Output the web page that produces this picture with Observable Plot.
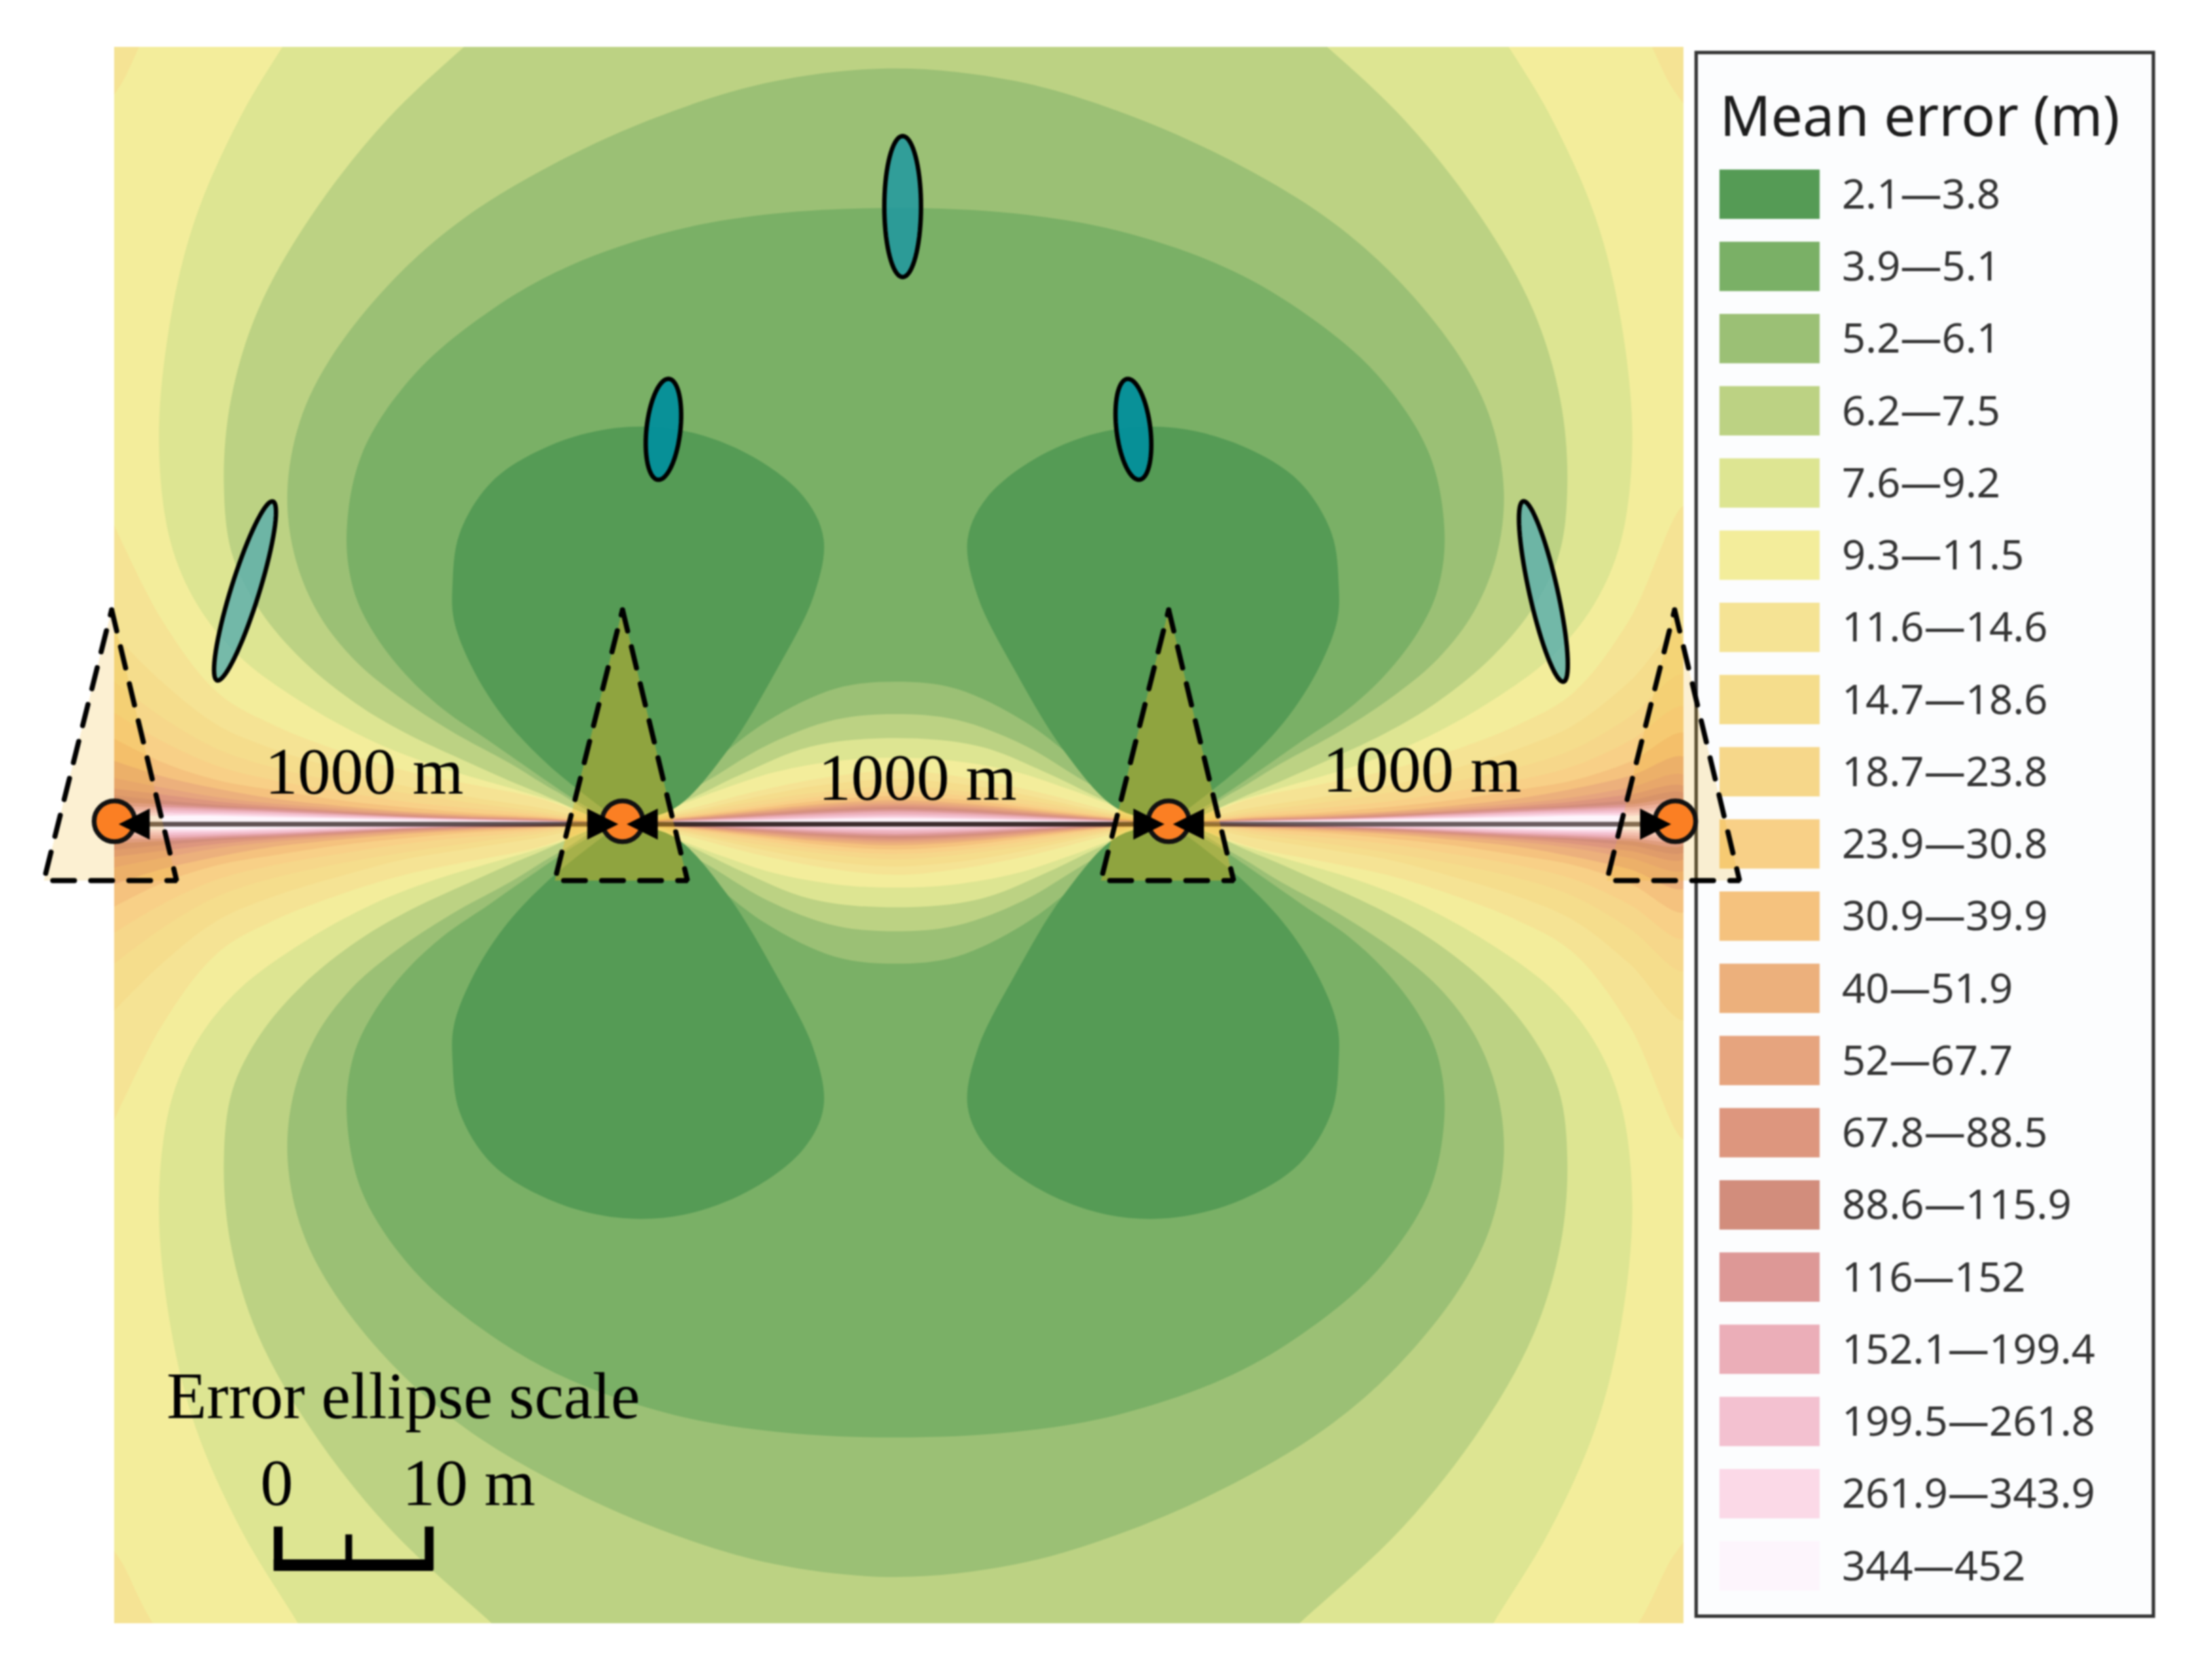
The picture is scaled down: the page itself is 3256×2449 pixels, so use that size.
<!DOCTYPE html>
<html><head><meta charset="utf-8">
<style>html,body{margin:0;padding:0;background:#fff;overflow:hidden}svg{display:block;filter:blur(1.1px)}</style>
<script src="https://cdn.jsdelivr.net/npm/d3@7"></script>
<script src="https://cdn.jsdelivr.net/npm/@observablehq/plot@0.6"></script>
</head><body><div id="chart"></div>
<script>
// Map units: origin at the middle of the station line.
const legendLabels = ["2.1—3.8","3.9—5.1","5.2—6.1","6.2—7.5","7.6—9.2","9.3—11.5","11.6—14.6","14.7—18.6","18.7—23.8","23.9—30.8","30.9—39.9","40—51.9","52—67.7","67.8—88.5","88.6—115.9","116—152","152.1—199.4","199.5—261.8","261.9—343.9","344—452"];
const legendColors = ["#559b55","#7ab066","#9bc075","#bcd283","#dde592","#f3ed9b","#f5e394","#f5dd8c","#f6d78a","#f8d087","#f5c27e","#ecb07c","#e6a47e","#dd967e","#d28d7c","#dd9896","#ebaeb8","#f3c1d0","#fbd9e7","#fdf5fc"];

// Green contours, upper-left quarter: [east, north]
const contour92 = [[-405,600],[-424,567],[-463,503],[-496,429],[-514,356],[-522,271],[-514,200],[-495,155],[-465,118],[-420,85],[-371,58],[-325,40],[-278,26],[-238,14],[-194,0],[-160,10],[-125,23],[-85,36],[-40,44],[0,46]];
const contour75 = [[-250,600],[-287,567],[-360,499],[-415,429],[-452,363],[-471,300],[-476,240],[-470,190],[-450,150],[-420,115],[-383,85],[-348,64],[-301,42],[-255,22],[-194,0],[-150,15],[-110,34],[-60,54],[0,60]];
const contour61 = [[0,535],[-85,526],[-157,505],[-231,473],[-304,430],[-356,385],[-400,330],[-422,285],[-431,235],[-426,190],[-410,150],[-385,117],[-353,90],[-315,65],[-273,42],[-240,22],[-194,0],[-140,26],[-91,55],[-43,73],[0,77]];
const contour51 = [[0,436],[-85,432],[-157,420],[-231,395],[-286,364],[-341,318],[-378,262],[-389,205],[-384,165],[-370,135],[-347,105],[-320,80],[-288,58],[-255,35],[-220,12],[-194,0],[-155,21],[-128,44],[-91,72],[-43,95],[0,100]];
const lobe38 = [[-194,0],[-245,40],[-278,75],[-301,112],[-313,144],[-314,168],[-309,205],[-286,242],[-246,267],[-198,280],[-150,278],[-102,260],[-65,231],[-51,201],[-58,161],[-84,109],[-120,50],[-157,10],[-194,0]];
const corner146 = [[-600,600],[-500,600],[-526,568],[-536,550],[-548,525],[-562,505]];

// High-error bands along the line: half-width north of the line at each station
const stations = [-560,-520,-480,-440,-394,-348,-300,-255,-194,-150,-100,-50,0];
const band146 = [225,144,92,69,51,37,27,18,0,9,22,32,37];
const band186 = [140,100,69,52,38,26,18,11,0,7,18,27,31];
const band238 = [105,75,52,39,29,21,14,8,0,6,15,22,26];
const band308 = [82,58,40,30,22,15,10,6,0,5,12,19,22];
const band399 = [63,43,30,23,16,11,7,4.5,0,4,10,16,19];
const band519 = [46,33,24,17,12,8,5.5,3.5,0,3.5,8.5,13.5,16];
const band677 = [33,25,18,13.5,10,7,4.5,3,0,3,7.5,12,14];
const band885 = [25,20,15,11.5,8.5,6,3.8,2.5,0,2.5,6.5,10.5,12.5];
const band1159 = [20,16,12.5,10,7.5,5,3.2,2,0,2.2,5.5,9,11];
const band152 = [15,13,11,9.5,7,4.5,3,1.8,0,2,5,8,9.5];
const band1994 = [11.5,11,9.5,8,6,4,2.6,1.5,0,1.6,4,6.5,8];
const band2618 = [9,9,8,7,5,3.5,2.2,1.2,0,1.2,3,5,6];
const band3439 = [7,7,6.5,5.5,4,3,1.8,1,0,1,2,3.5,4.5];
const band452 = [5,5,5,4,3,2,1.2,.7,0,.6,1.5,2.5,3];
const bands = [band146,band186,band238,band308,band399,band519,band677,band885,band1159,band152,band1994,band2618,band3439,band452];

// Stations on the line
const nodeEast = [-553.5,-193.5,193.5,552.5];
const coneEast = [-556.5,-194.5,192.5,551];
const lineNorth = -1, nodeNorth = 1;
const coneApexNorth = 151, coneBaseNorth = -41, coneBaseHalf = 47;
const coneOpacity = [0.2,0.38,0.38,0.2];
const lineOpacity = [0.75,0.92,0.7];

// Error ellipses: centre, semi-axes, tilt in degrees from north
const ellipseEast = [-461,-164.5,5,168.5,459];
const ellipseNorth = [164.4,279,437,279,164];
const ellipseLong = [66.5,36,50,36,65.6];
const ellipseShort = [10,12,13,12,10];
const ellipseTilt = [17.3,6.3,0,-7,-12.6];
const ellipseColor = ["#5fb0ab","#038f9b","#1f98a0","#038f9b","#5fb0ab"];
const ellipseOpacity = [0.85,0.95,0.85,0.95,0.85];

const spanLabels = ["1000 m","1000 m","1000 m"];
const spanEast = [-376.5,15.5,373], spanNorth = [20.5,16.5,22];
const legendTitle = "Mean error (m)";
const scaleTitle = "Error ellipse scale";
const scaleLabels = ["0","10 m"];
const scaleTicks = [-437.5,-387.5,-330.5];

const pt = d => d[0], ny = d => d[1];
const poly = (pts, o) => Plot.line(pts, {x: pt, y: ny, stroke: "none", ...o});
const closeX = q => {
  const m = q.slice(0, -1).reverse().map(([x, y]) => [-x, y]);
  if (q[0][0] === 0) m.pop();
  return q.concat(m);
};
const flipY = q => q.map(([x, y]) => [x, -y]);
const flipX = q => q.map(([x, y]) => [-x, y]);
const smooth = {curve: "catmull-rom", clip: "frame"};
const ring = {curve: "catmull-rom-closed", clip: "frame"};

const marks = [];
marks.push(Plot.rect([0], {x1: -553.5, x2: 558.5, y1: -568, y2: 550, fill: legendColors[5]}));
[contour92, contour75, contour61, contour51].forEach((q, i) => {
  const fill = legendColors[4 - i], c = closeX(q);
  marks.push(poly(c, {fill, ...ring}), poly(flipY(c), {fill, ...ring}));
});
[lobe38, flipX(lobe38), flipY(lobe38), flipY(flipX(lobe38))].forEach(l => marks.push(poly(l, {fill: legendColors[0], ...smooth})));
[corner146, flipX(corner146), flipY(corner146), flipY(flipX(corner146))].forEach(l => marks.push(poly(l, {fill: legendColors[6], ...smooth})));
bands.forEach((b, i) => {
  const q = stations.map((x, j) => [x, b[j]]), top = closeX(q);
  const all = top.concat(flipY(top).reverse());
  marks.push(poly(all, {fill: legendColors[i + 6], ...smooth}));
});
nodeEast.slice(0, -1).forEach((e, i) => marks.push(poly([[e, lineNorth], [nodeEast[i + 1], lineNorth]], {stroke: "#2a1a1a", strokeWidth: 7, strokeOpacity: lineOpacity[i]})));

// legend
const rowStep = 51.2;
marks.push(Plot.rect([0], {x1: 567.5, x2: 891.5, y1: 546, y2: -563, fill: "#fcfdfe", stroke: "#333", strokeWidth: 5}));
marks.push(Plot.rect(legendLabels, {x1: 584, x2: 655, y1: (d, i) => 463 - rowStep * i, y2: (d, i) => 428 - rowStep * i, fill: (d, i) => legendColors[i]}));
marks.push(Plot.text(legendLabels, {x: 670.5, y: (d, i) => 445 - rowStep * i, text: d => d, textAnchor: "start", fontFamily: "Noto Sans", fontSize: 61, fill: "#333"}));
marks.push(Plot.text([legendTitle], {x: 584, y: 487, text: d => d, textAnchor: "start", lineAnchor: "bottom", fontFamily: "Noto Sans", fontSize: 83, fill: "#1c1c1c"}));

// sensor cones, stations, arrowheads
coneEast.forEach((e, i) => {
  const tri = [[e + 1, coneApexNorth], [e + coneBaseHalf, coneBaseNorth], [e - coneBaseHalf, coneBaseNorth], [e + 1, coneApexNorth]];
  marks.push(poly(tri, {fill: "#eeb21e", fillOpacity: coneOpacity[i]}));
  marks.push(poly(tri, {stroke: "#000", strokeWidth: 7.5, strokeDasharray: "32 24", strokeLinejoin: "miter"}));
});
marks.push(Plot.dot(nodeEast, {x: d => d, y: nodeNorth, r: 30, fill: "#fb7f23", stroke: "#111", strokeWidth: 7}));
const headLength = 22, headHalf = 11, headInset = 3;
nodeEast.forEach((e, i) => {
  if (i < 3) marks.push(poly([[e + headInset, lineNorth], [e + headInset + headLength, lineNorth + headHalf], [e + headInset + headLength, lineNorth - headHalf]], {fill: "#000"}));
  if (i > 0) marks.push(poly([[e - headInset, lineNorth], [e - headInset - headLength, lineNorth + headHalf], [e - headInset - headLength, lineNorth - headHalf]], {fill: "#000"}));
});

// ellipses
ellipseEast.forEach((e, i) => {
  const t = ellipseTilt[i] * Math.PI / 180, pts = d3.range(73).map(k => {
    const a = k / 72 * 2 * Math.PI, u = ellipseShort[i] * Math.cos(a), v = ellipseLong[i] * Math.sin(a);
    return [e + u * Math.cos(t) + v * Math.sin(t), ellipseNorth[i] - u * Math.sin(t) + v * Math.cos(t)];
  });
  marks.push(poly(pts, {fill: ellipseColor[i], fillOpacity: ellipseOpacity[i]}));
  marks.push(poly(pts, {stroke: "#000", strokeWidth: 6.5}));
});

// labels
const serif = {fontFamily: "Liberation Serif", fontSize: 96.5, fill: "#000", lineAnchor: "bottom"};
marks.push(Plot.text(spanLabels, {x: (d, i) => spanEast[i], y: (d, i) => spanNorth[i], text: d => d, textAnchor: "middle", ...serif}));
marks.push(Plot.text([scaleTitle], {x: -516.5, y: -422, text: d => d, textAnchor: "start", ...serif}));
marks.push(Plot.text([scaleLabels[0]], {x: -438.5, y: -484, text: d => d, textAnchor: "middle", ...serif}));
marks.push(Plot.text([scaleLabels[1]], {x: -349.5, y: -484, text: d => d, textAnchor: "start", ...serif}));

// scale bar
marks.push(Plot.ruleY([-526.5], {x1: scaleTicks[0] - 3, x2: scaleTicks[2] + 3, stroke: "#000", strokeWidth: 17}));
marks.push(Plot.ruleX([scaleTicks[0], scaleTicks[2]], {y1: -499.5, y2: -530, stroke: "#000", strokeWidth: 13}));
marks.push(Plot.ruleX([scaleTicks[1]], {y1: -505, y2: -530, stroke: "#000", strokeWidth: 10}));

const chart = Plot.plot({
  width: 3256, height: 2449,
  marginLeft: 168, marginRight: 778, marginTop: 69, marginBottom: 60,
  x: {domain: [-553.5, 558.5], axis: null},
  y: {domain: [-568, 550], axis: null},
  style: {background: "white"},
  marks
});
document.getElementById("chart").appendChild(chart);
</script>
</body></html>
